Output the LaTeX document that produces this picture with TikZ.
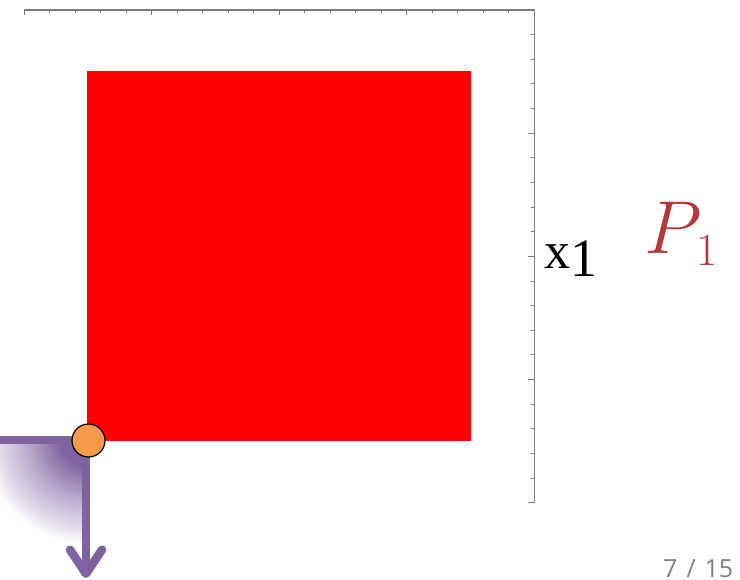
\RequirePackage{fix-cm}
\documentclass[tikz,border=0pt]{standalone}
\usepackage{fontspec}
\newfontfamily\serifx{Liberation Serif}
\newfontfamily\pagefont{Open Sans}
\usetikzlibrary{arrows.meta}
\definecolor{purp}{RGB}{127,99,160}
\definecolor{dotorange}{RGB}{245,155,75}
\definecolor{pred}{RGB}{178,58,58}
\definecolor{axisgray}{RGB}{125,125,125}
\definecolor{pagegray}{RGB}{128,128,128}
\pgfdeclareradialshading{purpfade}{\pgfpoint{0bp}{0bp}}{color(0bp)=(purp); color(6bp)=(purp); color(14bp)=(purp!55); color(21bp)=(purp!22); color(25bp)=(white); color(50bp)=(white)}
\tikzset{
  axisline/.style={draw=axisgray, line width=1.3pt},
  ticksty/.style={draw=axisgray, line width=1pt},
  vecsty/.style={draw=purp, line width=8.5pt, line join=round},
}
\begin{document}
\begin{tikzpicture}[x=1pt,y=-1pt]
\useasboundingbox (0,0) rectangle (740,580);
% purple vector anchor points
\coordinate (hl) at (0,440);
\coordinate (corner) at (86,440);
\coordinate (tip) at (86,578);
% shaded quarter
\begin{scope}
  \clip (0,440) rectangle (86,580);
  \shade[shading=purpfade] (corner) circle (104);
\end{scope}
% axes
\coordinate (tl) at (24,10);
\coordinate (tr) at (534.3,10);
\coordinate (br) at (534.3,502.8);
\draw[axisline] (tl) -- (tr) -- (br);
\foreach \i in {0,...,20}{
  \pgfmathsetmacro{\xx}{24+\i*25.515}
  \pgfmathsetmacro{\yy}{10+\i*24.64}
  \pgfmathtruncatemacro{\m}{mod(\i,5)}
  \ifnum\m=0
    \draw[ticksty] (\xx,10) -- ++(0,5);
    \draw[ticksty] (534.3,\yy) -- ++(-6,0);
  \else
    \draw[ticksty] (\xx,10) -- ++(0,3);
    \draw[ticksty] (534.3,\yy) -- ++(-3.5,0);
  \fi
}
% red square
\fill[red] (87.3,71) rectangle (471,441);
% purple vector
\draw[vecsty, -{Straight Barb[length=24pt, width=32pt, round]}] (hl) -- (corner) -- (tip);
% point
\node[circle, draw=black, fill=dotorange, line width=1.2pt, minimum size=33pt, inner sep=0pt] (pt) at (88.5,440.5) {};
% labels
\node[anchor=base west, inner sep=0pt] (xlabel) at (544,269) {\serifx\fontsize{52}{52}\selectfont x\raisebox{-8pt}{\fontsize{54}{54}\selectfont 1}};
\node[anchor=base west, inner sep=0pt, text=pred] (plabel) at (644,254) {\fontsize{75}{75}\selectfont $P_{\hspace{5pt}\mbox{\fontsize{46}{46}\selectfont 1}}$};
\node[anchor=base west, inner sep=0pt, text=pagegray] (page) at (663,577) {\pagefont\fontsize{25}{25}\selectfont 7\hspace{9pt}/\hspace{9pt}15};
\end{tikzpicture}
\end{document}
